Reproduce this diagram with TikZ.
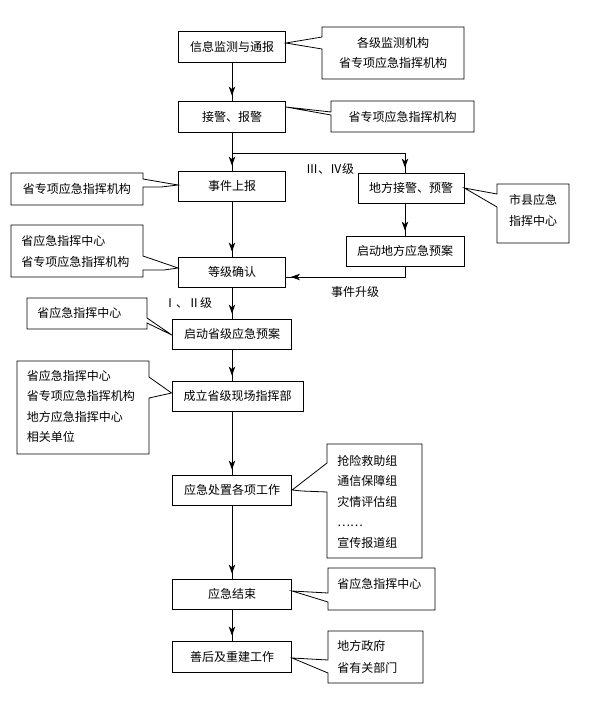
\documentclass[tikz,border=0pt]{standalone}
\usepackage{fontspec}
\setmainfont{Noto Sans CJK SC}
\usetikzlibrary{arrows.meta,decorations.markings}
\begin{document}
\begin{tikzpicture}[x=1pt,y=-1pt,line width=0.8pt,
  font=\fontsize{12}{20.5}\selectfont,
  box/.style={draw,rectangle,inner sep=0pt,minimum height=30pt},
  note/.style={inner sep=0pt,align=left,anchor=west},
  cnote/.style={inner sep=0pt,align=center},
  lbl/.style={inner sep=0pt},
  flow/.style={postaction={decorate},decoration={markings,
     mark=at position -5pt with {\arrow{Stealth[length=9pt,width=6.5pt,inset=2.5pt]}}}}]
\useasboundingbox (0,0) rectangle (596,705);
\fill[white] (0,0) rectangle (596,705);

% main boxes
\node[box,minimum width=107pt,minimum height=31pt] (b1) at (232,46.5) {信息监测与通报};
\node[box,minimum width=107pt,minimum height=31pt] (b2) at (232,116.5) {接警、报警};
\node[box,minimum width=107pt] (b3) at (232,186) {事件上报};
\node[box,minimum width=106pt] (b4) at (411,188) {地方接警、预警};
\node[box,minimum width=118pt] (b5) at (405,251) {启动地方应急预案};
\node[box,minimum width=107pt] (b6) at (232,272) {等级确认};
\node[box,minimum width=119.5pt] (b7) at (232,334) {启动省级应急预案};
\node[box,minimum width=131pt] (b8) at (237.5,396) {成立省级现场指挥部};
\node[box,minimum width=119.5pt] (b9) at (232,490) {应急处置各项工作};
\node[box,minimum width=119.5pt] (b10) at (232,594) {应急结束};
\node[box,minimum width=119.5pt,minimum height=31pt] (b11) at (232,656.5) {善后及重建工作};

% callout texts
\node[cnote] (c1) at (393,53) {各级监测机构\\省专项应急指挥机构};
\node[cnote] (c2) at (402.5,117) {省专项应急指挥机构};
\node[cnote] (c3) at (77,189) {省专项应急指挥机构};
\node[cnote] (c4) at (533,210.5) {市县应急\\指挥中心};
\node[note] (c5) at (21,251.5) {省应急指挥中心\\省专项应急指挥机构};
\node[note] (c6) at (37,313) {省应急指挥中心};
\node[note] (c7) at (26.5,406.5) {省应急指挥中心\\省专项应急指挥机构\\地方应急指挥中心\\相关单位};
\node[note] (c8) at (337,501.5) {抢险救助组\\通信保障组\\灾情评估组\\……\\宣传报道组};
\node[note] (c9) at (337,584) {省应急指挥中心};
\node[note] (c10) at (337,657) {地方政府\\[1.5pt]省有关部门};

% callout outlines
\draw (322,37) -- (b1.east |- 0,43) -- (322,49) -- (322,79) -- (464,79) -- (464,27) -- (322,27) -- cycle;
\draw (331,112) -- (b2.east |- 0,107) -- (331,115) -- (331,132) -- (474,132) -- (474,101) -- (331,101) -- cycle;
\draw (143,179) -- (b3.west |- 0,185) -- (161,187) -- (143,187) -- (143,205) -- (11,205) -- (11,173) -- (143,173) -- cycle;
\draw (497,194) -- (b4.east |- 0,188) -- (497,207) -- (497,243) -- (569,243) -- (569,184) -- (497,184) -- cycle;
\draw (143,256) -- (b6.west |- 0,268) -- (164,270) -- (143,270) -- (143,277) -- (11,277) -- (11,225) -- (143,225) -- cycle;
\draw (147,318) -- (b7.west |- 0,335) -- (147,323) -- (147,329) -- (27,329) -- (27,298) -- (147,298) -- cycle;
\draw (149,377) -- (b8.west |- 0,393) -- (149,398) -- (149,454) -- (17,454) -- (17,361) -- (149,361) -- cycle;
\draw (327,463) -- (b9.east |- 0,490) -- (302,491) -- (327,492) -- (327,558) -- (422,558) -- (422,444) -- (327,444) -- cycle;
\draw (328,593) -- (b10.east |- 0,591) -- (328,602) -- (328,610) -- (435,610) -- (435,568) -- (328,568) -- cycle;
\draw (328,660) -- (b11.east |- 0,658) -- (328,673) -- (328,683) -- (423,683) -- (423,631) -- (328,631) -- cycle;

% labels
\node[lbl] (l1) at (330,169) {Ⅲ、Ⅳ级};
\node[lbl] (l2) at (355,292) {事件升级};
\node[lbl] (l3) at (188,303) {Ⅰ、Ⅱ级};

% connectors
\coordinate (j1) at (232,153);
\coordinate (j2) at (405,153);
\coordinate (u1) at (405,277);
\draw[flow] (b1) -- (b2);
\draw[flow] (b2.south) -- (b3.north);
\draw[flow] (j1) -- (j2) -- (j2 |- b4.north);
\draw[flow] (j2 |- b4.south) -- (b5.north);
\draw[flow] (b5.south) -- (u1) -- (b6.east |- u1);
\draw[flow] (b3.south) -- (b6.north);
\draw[flow] (b6.south) -- (b7.north);
\draw[flow] (b7.south) -- (b7.south |- b8.north);
\draw[flow] (b7.south |- b8.south) -- (b9.north);
\draw[flow] (b9.south) -- (b10.north);
\draw[flow] (b10.south) -- (b11.north);
\end{tikzpicture}
\end{document}
